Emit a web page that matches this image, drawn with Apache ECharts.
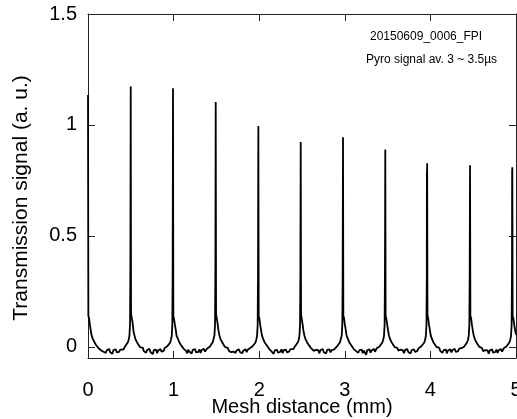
<!DOCTYPE html>
<html lang="en">
<head>
    <meta charset="utf-8">
    <title>FPI transmission</title>
    <script src="https://cdn.jsdelivr.net/npm/echarts@6.0.0/dist/echarts.min.js"></script>
    <style>
        html, body { margin: 0; padding: 0; background: #fff; }
        #main { width: 517px; height: 419px; }
    </style>
</head>
<body>
<div id="main"></div>
<script type="text/javascript">
    // transmission signal vs mesh distance, [mm, a.u.], one block per fringe
    var seg0 = [[0.000,1.135],[0.004,0.14],[0.012,0.13],[0.022,0.10],[0.032,0.075],[0.042,0.052],[0.056,0.036],[0.074,0.022],[0.092,0.010],[0.110,0.001],[0.126,-0.007],[0.140,-0.004],
        [0.155,-0.016],[0.168,-0.010],[0.181,-0.022],[0.194,-0.013],[0.207,-0.027],[0.220,-0.015],[0.233,-0.020],[0.246,-0.009],[0.259,-0.024],[0.272,-0.017],[0.285,-0.031],[0.298,-0.014],[0.311,-0.021],[0.324,-0.011],[0.337,-0.025],[0.350,-0.016],[0.363,-0.022],[0.376,-0.012],[0.389,-0.019],
        [0.399,-0.008],[0.414,-0.012],[0.429,0.000],[0.449,0.008],[0.464,0.020],[0.474,0.030],[0.484,0.050],[0.491,0.10],[0.495,0.35]];
    var seg1 = [[0.499,1.173],[0.503,0.15],[0.511,0.13],[0.521,0.11],[0.531,0.072],[0.541,0.055],[0.555,0.034],[0.573,0.020],[0.591,0.011],[0.609,-0.002],[0.625,-0.008],[0.639,-0.003],
        [0.652,-0.019],[0.665,-0.011],[0.678,-0.026],[0.691,-0.014],[0.704,-0.021],[0.717,-0.009],[0.730,-0.023],[0.743,-0.018],[0.756,-0.033],[0.769,-0.015],[0.782,-0.024],[0.795,-0.012],[0.808,-0.028],[0.821,-0.016],[0.834,-0.020],[0.847,-0.010],[0.860,-0.022],[0.873,-0.013],[0.886,-0.017],
        [0.893,-0.006],[0.908,-0.010],[0.923,0.002],[0.943,0.010],[0.958,0.018],[0.968,0.032],[0.978,0.048],[0.985,0.10],[0.989,0.34]];
    var seg2 = [[0.993,1.165],[0.997,0.14],[1.005,0.125],[1.015,0.10],[1.025,0.078],[1.035,0.050],[1.049,0.038],[1.067,0.021],[1.085,0.009],[1.103,0.000],[1.119,-0.009],[1.133,-0.005],
        [1.146,-0.018],[1.159,-0.029],[1.172,-0.012],[1.185,-0.022],[1.198,-0.015],[1.211,-0.030],[1.224,-0.013],[1.237,-0.019],[1.250,-0.010],[1.263,-0.025],[1.276,-0.017],[1.289,-0.022],[1.302,-0.011],[1.315,-0.027],[1.328,-0.014],[1.341,-0.019],[1.354,-0.009],[1.367,-0.021],[1.380,-0.014],
        [1.392,-0.007],[1.407,-0.011],[1.422,0.001],[1.442,0.009],[1.457,0.021],[1.467,0.029],[1.477,0.052],[1.484,0.10],[1.488,0.33]];
    var seg3 = [[1.492,1.104],[1.496,0.145],[1.504,0.13],[1.514,0.105],[1.524,0.074],[1.534,0.054],[1.548,0.035],[1.566,0.022],[1.584,0.010],[1.602,-0.001],[1.618,-0.008],[1.632,-0.004],
        [1.645,-0.017],[1.658,-0.010],[1.671,-0.024],[1.684,-0.015],[1.697,-0.021],[1.710,-0.012],[1.723,-0.027],[1.736,-0.016],[1.749,-0.020],[1.762,-0.011],[1.775,-0.023],[1.788,-0.014],[1.801,-0.029],[1.814,-0.017],[1.827,-0.021],[1.840,-0.010],[1.853,-0.024],[1.866,-0.013],[1.879,-0.016],
        [1.890,-0.006],[1.905,-0.011],[1.920,0.002],[1.940,0.008],[1.955,0.019],[1.965,0.031],[1.975,0.049],[1.982,0.10],[1.986,0.32]];
    var seg4 = [[1.990,0.995],[1.994,0.14],[2.002,0.128],[2.012,0.098],[2.022,0.076],[2.032,0.052],[2.046,0.036],[2.064,0.020],[2.082,0.011],[2.100,0.001],[2.116,-0.009],[2.130,-0.005],
        [2.143,-0.020],[2.156,-0.012],[2.169,-0.031],[2.182,-0.016],[2.195,-0.023],[2.208,-0.013],[2.221,-0.026],[2.234,-0.018],[2.247,-0.022],[2.260,-0.011],[2.273,-0.028],[2.286,-0.015],[2.299,-0.021],[2.312,-0.012],[2.325,-0.025],[2.338,-0.016],[2.351,-0.020],[2.364,-0.010],[2.377,-0.015],
        [2.385,-0.007],[2.400,-0.010],[2.415,0.001],[2.435,0.010],[2.450,0.020],[2.460,0.030],[2.470,0.050],[2.477,0.10],[2.481,0.32]];
    var seg5 = [[2.485,0.923],[2.489,0.145],[2.497,0.126],[2.507,0.102],[2.517,0.073],[2.527,0.053],[2.541,0.035],[2.559,0.021],[2.577,0.009],[2.595,0.000],[2.611,-0.008],[2.625,-0.004],
        [2.638,-0.018],[2.651,-0.027],[2.664,-0.013],[2.677,-0.021],[2.690,-0.015],[2.703,-0.029],[2.716,-0.014],[2.729,-0.020],[2.742,-0.010],[2.755,-0.024],[2.768,-0.016],[2.781,-0.030],[2.794,-0.013],[2.807,-0.022],[2.820,-0.011],[2.833,-0.025],[2.846,-0.015],[2.859,-0.019],[2.872,-0.012],
        [2.879,-0.006],[2.894,-0.011],[2.909,0.002],[2.929,0.009],[2.944,0.021],[2.954,0.030],[2.964,0.051],[2.971,0.10],[2.975,0.33]];
    var seg6 = [[2.979,0.945],[2.983,0.14],[2.991,0.13],[3.001,0.10],[3.011,0.077],[3.021,0.051],[3.035,0.037],[3.053,0.020],[3.071,0.010],[3.089,0.000],[3.105,-0.010],[3.119,-0.005],
        [3.132,-0.019],[3.145,-0.011],[3.158,-0.026],[3.171,-0.014],[3.184,-0.022],[3.197,-0.012],[3.210,-0.028],[3.223,-0.017],[3.236,-0.024],[3.249,-0.036],[3.262,-0.015],[3.275,-0.021],[3.288,-0.011],[3.301,-0.026],[3.314,-0.016],[3.327,-0.020],[3.340,-0.009],[3.353,-0.022],[3.366,-0.014],
        [3.373,-0.006],[3.388,-0.010],[3.403,0.001],[3.423,0.009],[3.438,0.020],[3.448,0.031],[3.458,0.050],[3.465,0.10],[3.469,0.33]];
    var seg7 = [[3.473,0.890],[3.477,0.14],[3.485,0.127],[3.495,0.101],[3.505,0.075],[3.515,0.053],[3.529,0.035],[3.547,0.021],[3.565,0.010],[3.583,-0.001],[3.599,-0.009],[3.613,-0.004],
        [3.626,-0.017],[3.639,-0.025],[3.652,-0.012],[3.665,-0.021],[3.678,-0.016],[3.691,-0.028],[3.704,-0.013],[3.717,-0.022],[3.730,-0.010],[3.743,-0.024],[3.756,-0.017],[3.769,-0.029],[3.782,-0.014],[3.795,-0.020],[3.808,-0.011],[3.821,-0.023],[3.834,-0.015],[3.847,-0.018],[3.860,-0.010],
        [3.862,-0.006],[3.877,-0.011],[3.892,0.002],[3.912,0.010],[3.927,0.019],[3.937,0.030],[3.947,0.050],[3.954,0.10],[3.958,0.33],[3.959,0.79],[3.960,0.70]];
    var seg8 = [[3.962,0.827],[3.966,0.145],[3.974,0.128],[3.984,0.099],[3.994,0.076],[4.004,0.052],[4.018,0.036],[4.036,0.020],[4.054,0.010],[4.072,0.000],[4.088,-0.009],[4.102,-0.004],
        [4.115,-0.018],[4.128,-0.011],[4.141,-0.027],[4.154,-0.015],[4.167,-0.022],[4.180,-0.012],[4.193,-0.029],[4.206,-0.016],[4.219,-0.021],[4.232,-0.011],[4.245,-0.025],[4.258,-0.014],[4.271,-0.020],[4.284,-0.009],[4.297,-0.023],[4.310,-0.015],[4.323,-0.019],[4.336,-0.008],[4.349,-0.014],
        [4.363,-0.006],[4.378,-0.010],[4.393,0.001],[4.413,0.009],[4.428,0.020],[4.438,0.030],[4.448,0.051],[4.455,0.10],[4.459,0.32]];
    var seg9 = [[4.463,0.818],[4.467,0.14],[4.475,0.13],[4.485,0.10],[4.495,0.074],[4.505,0.054],[4.519,0.035],[4.537,0.021],[4.555,0.010],[4.573,0.000],[4.589,-0.008],[4.603,-0.005],
        [4.616,-0.019],[4.629,-0.028],[4.642,-0.014],[4.655,-0.022],[4.668,-0.016],[4.681,-0.031],[4.694,-0.015],[4.707,-0.021],[4.720,-0.011],[4.733,-0.026],[4.746,-0.017],[4.759,-0.023],[4.772,-0.012],[4.785,-0.027],[4.798,-0.015],[4.811,-0.020],[4.824,-0.010],[4.837,-0.021],[4.850,-0.013],
        [4.857,-0.006],[4.872,-0.010],[4.887,0.002],[4.907,0.010],[4.922,0.020],[4.932,0.031],[4.942,0.050],[4.949,0.10],[4.953,0.33],[4.955,0.80],[4.956,0.76]];
    var seg10 = [[4.957,0.810],[4.961,0.14],[4.969,0.128],[4.979,0.10],[4.989,0.077],[5.000,0.055]];

    var yTicks = [0, 0.5, 1, 1.5];
    var noteLines = ['20150609_0006_FPI', 'Pyro signal av. 3 ~ 3.5\u00b5s'];

    var signal = [].concat(seg0, seg1, seg2, seg3, seg4, seg5, seg6, seg7, seg8, seg9, seg10);

    var font = "'Liberation Sans', Arial, Helvetica, sans-serif";
    var chart = echarts.init(document.getElementById('main'), null, {renderer: 'canvas'});

    var frameLine = {show: true, onZero: false, lineStyle: {color: '#222', width: 1}};
    var tickIn = {show: true, inside: true, length: 7, lineStyle: {color: '#222', width: 1}};

    var option = {
        animation: false,
        backgroundColor: '#fff',
        grid: {left: 88, right: 1, top: 14, bottom: 61, containLabel: false, outerBoundsMode: 'none'},
        xAxis: [
            {
                type: 'value', position: 'bottom', min: 0, max: 5, interval: 1,
                name: 'Mesh distance (mm)', nameLocation: 'middle', nameGap: 39, nameMoveOverlap: false,
                nameTextStyle: {fontFamily: font, fontSize: 20, color: '#000'},
                axisLine: frameLine, axisTick: tickIn,
                axisLabel: {fontFamily: font, fontSize: 20, color: '#000', margin: 22},
                splitLine: {show: false}
            },
            {
                type: 'value', position: 'top', min: 0, max: 5, interval: 1,
                axisLine: frameLine, axisTick: tickIn,
                axisLabel: {show: false}, splitLine: {show: false}
            }
        ],
        yAxis: [
            {
                type: 'value', position: 'left', min: -0.05, max: 1.5,
                name: 'Transmission signal (a. u.)', nameLocation: 'middle', nameGap: 56, nameMoveOverlap: false,
                nameTextStyle: {fontFamily: font, fontSize: 21, color: '#000', padding: [0, 24, 0, 0]},
                axisLine: frameLine,
                axisTick: {show: true, inside: true, length: 7, lineStyle: {color: '#222', width: 1}, customValues: yTicks},
                axisLabel: {fontFamily: font, fontSize: 20, color: '#000', margin: 11, customValues: yTicks},
                splitLine: {show: false}
            },
            {
                type: 'value', position: 'right', min: -0.05, max: 1.5,
                axisLine: frameLine,
                axisTick: {show: true, inside: true, length: 7, lineStyle: {color: '#222', width: 1}, customValues: yTicks},
                axisLabel: {show: false}, splitLine: {show: false}
            }
        ],
        graphic: [
            {type: 'text', left: 370, top: 31, style: {text: noteLines[0], font: '12px ' + font, fill: '#000'}},
            {type: 'text', left: 366, top: 54, style: {text: noteLines[1], font: '12px ' + font, fill: '#000'}}
        ],
        series: [
            {
                type: 'line', xAxisIndex: 0, yAxisIndex: 0,
                data: signal, showSymbol: false, symbol: 'none',
                lineStyle: {color: '#000', width: 1.8},
                clip: true
            }
        ]
    };
    chart.setOption(option);
</script>
</body>
</html>
